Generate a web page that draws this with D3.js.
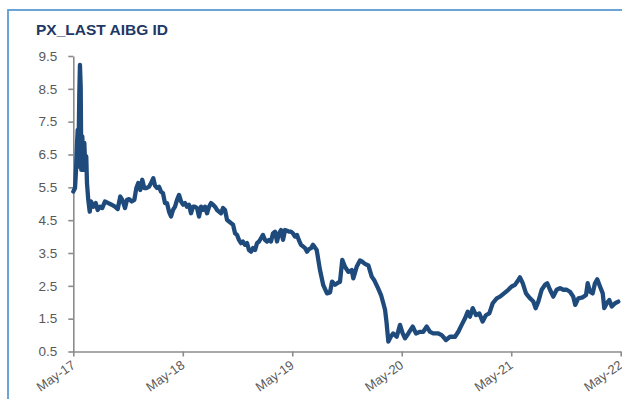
<!DOCTYPE html>
<html>
<head>
<meta charset="utf-8">
<script src="https://cdn.jsdelivr.net/npm/d3@7"></script>
<style>
  html, body { margin: 0; padding: 0; background: #fff; overflow: hidden; }
  svg { display: block; }
</style>
</head>
<body>
<svg id="chart" width="622" height="399"></svg>
<script>
// ---- Data (months since May 2017, PX_LAST) ----
const title = "PX_LAST AIBG ID";
const monthsSinceStart = [
  0,0.19,0.30,0.41,0.48,0.55,0.66,0.73,0.81,0.88,0.99,1.10,1.21,1.32,1.42,1.50,1.64,1.80,1.94,2.19,
  2.46,2.67,2.93,3.18,3.47,3.84,4.21,4.57,4.87,5.15,5.37,5.67,5.89,6.11,6.40,6.69,6.91,7.12,7.34,7.56,
  7.78,8.05,8.30,8.52,8.77,8.96,9.17,9.39,9.61,9.83,10.05,10.27,10.49,10.71,10.93,11.15,11.37,11.59,11.81,12.03,
  12.25,12.46,12.68,12.90,13.12,13.34,13.56,13.78,14.00,14.22,14.44,14.66,14.88,15.10,15.32,15.53,15.75,15.97,16.19,16.41,
  16.63,16.85,17.07,17.29,17.51,17.73,17.95,18.16,18.38,18.60,18.82,19.04,19.26,19.48,19.70,19.92,20.14,20.36,20.57,20.79,
  21.01,21.23,21.45,21.67,21.89,22.11,22.33,22.55,22.77,22.99,23.21,23.42,23.64,23.86,24.08,24.30,24.52,24.74,24.96,25.18,
  25.40,25.62,25.84,26.06,26.27,26.68,27.04,27.40,27.81,28.14,28.36,28.69,29.05,29.23,29.48,29.78,30.14,30.52,30.69,31.06,
  31.42,31.64,31.97,32.34,32.71,33.01,33.40,33.73,33.98,34.17,34.33,34.53,34.79,35.07,35.45,35.81,36.10,36.36,36.72,37.20,
  37.56,38.00,38.36,38.74,39.10,39.46,40.01,40.38,40.85,41.29,41.84,42.20,42.57,42.94,43.23,43.48,43.78,44.14,44.50,44.87,
  45.24,45.60,45.97,46.41,46.77,47.21,47.68,48.05,48.41,48.78,48.96,49.26,49.62,50.06,50.42,50.68,50.97,51.34,51.70,51.95,
  52.25,52.61,52.98,53.35,53.71,54.08,54.44,54.80,55.02,55.35,55.84,56.20,56.38,56.64,56.93,57.18,57.43,57.73,58.03,58.20,
  58.47,58.75,59.02,59.38,59.74
];
const pxLast = [
  5.37,5.48,6.03,6.86,7.25,6.13,8.37,9.23,8.57,6.03,7.05,6.03,6.85,6.03,6.44,5.63,5.12,4.76,5.07,4.91,
  5.02,4.81,4.91,4.87,5.07,5.02,4.97,4.91,4.84,5.22,5.12,4.87,5.12,5.14,5.07,5.12,5.48,5.63,5.42,5.73,
  5.48,5.48,5.52,5.63,5.78,5.55,5.48,5.52,5.37,5.32,5.02,5.02,4.76,4.61,4.81,4.91,5.12,5.27,5.07,4.97,
  5.02,4.91,4.97,4.71,4.91,4.91,4.87,4.61,4.91,4.81,4.91,4.71,4.91,5.02,4.97,4.91,4.81,4.76,4.71,4.87,
  4.81,4.51,4.46,4.41,4.36,4.10,4.05,3.90,3.80,3.85,3.75,3.80,3.59,3.54,3.65,3.59,3.80,3.85,3.95,4.05,
  3.90,3.85,3.90,3.85,4.10,4.15,3.85,4.10,4.20,3.90,4.20,4.18,4.15,4.15,4.10,4.00,4.05,3.88,3.75,3.70,
  3.65,3.54,3.62,3.65,3.75,3.59,2.98,2.52,2.27,2.30,2.63,2.53,2.60,2.62,3.29,3.08,2.93,2.98,2.73,3.08,
  3.27,3.24,3.17,3.12,2.78,2.66,2.43,2.22,1.97,1.77,1.40,0.80,0.95,1.05,0.95,1.31,1.05,0.90,1.05,1.26,
  1.05,1.10,1.10,1.26,1.10,1.05,1.05,1.00,0.85,0.95,0.95,1.10,1.31,1.51,1.71,1.56,1.82,1.61,1.66,1.41,
  1.61,1.66,1.97,2.12,2.17,2.27,2.38,2.48,2.53,2.68,2.76,2.58,2.27,2.12,2.02,1.82,2.02,2.38,2.53,2.58,
  2.38,2.17,2.38,2.43,2.38,2.38,2.32,2.17,1.92,2.12,2.15,2.22,2.58,2.32,2.27,2.58,2.70,2.48,2.27,1.82,
  1.97,2.07,1.87,1.97,2.02
];
const xTickMonths = [0, 12, 24, 36, 48, 60];
const xTickLabels = ["May-17", "May-18", "May-19", "May-20", "May-21", "May-22"];
const yTickValues = [0.5, 1.5, 2.5, 3.5, 4.5, 5.5, 6.5, 7.5, 8.5, 9.5];

// ---- Layout ----
const svg = d3.select("#chart");
const plotLeft = 73.3, plotRight = 620.7, plotTop = 56, plotBottom = 351.5;
const font = "'Liberation Sans', Arial, sans-serif";
const axisColor = "#8c8c8c";
const labelColor = "#595959";

// Frame border
svg.append("rect")
  .attr("x", 8).attr("y", 10)
  .attr("width", 640).attr("height", 420)
  .attr("fill", "none")
  .attr("stroke", "#5b9bd5")
  .attr("stroke-width", 1.8);

// Title
svg.append("text")
  .attr("x", 36).attr("y", 35)
  .attr("font-family", font)
  .attr("font-weight", "bold")
  .attr("font-size", 15.5)
  .attr("fill", "#1f3864")
  .text(title);

const x = d3.scaleLinear().domain([0, 60]).range([plotLeft, plotRight]);
const y = d3.scaleLinear().domain([0.5, 9.5]).range([plotBottom, plotTop]);

// Y axis
const yAxis = svg.append("g")
  .attr("transform", `translate(${plotLeft},0)`)
  .call(d3.axisLeft(y).tickValues(yTickValues).tickFormat(d3.format(".1f")).tickSize(5).tickSizeOuter(0).tickPadding(11));
yAxis.select(".domain").attr("stroke", axisColor).attr("stroke-width", 1.6);
yAxis.selectAll(".tick line").attr("stroke", axisColor).attr("stroke-width", 1.6);
yAxis.selectAll(".tick text")
  .attr("font-family", font).attr("font-size", 13.5).attr("fill", labelColor);

// X axis
const xAxis = svg.append("g")
  .attr("transform", `translate(0,${plotBottom})`)
  .call(d3.axisBottom(x).tickValues(xTickMonths).tickFormat((d, i) => xTickLabels[i]).tickSize(5).tickSizeOuter(0));
xAxis.select(".domain").attr("stroke", axisColor).attr("stroke-width", 1.6);
xAxis.selectAll(".tick line").attr("stroke", axisColor).attr("stroke-width", 1.6);
xAxis.selectAll(".tick text")
  .attr("font-family", font).attr("font-size", 13).attr("fill", labelColor)
  .attr("text-anchor", "end")
  .attr("y", 0).attr("dy", "0.71em")
  .attr("transform", "translate(-3,8) rotate(-35)");

// Line
const data = monthsSinceStart.map((m, i) => ({ m, v: pxLast[i] }));
svg.append("path")
  .datum(data)
  .attr("fill", "none")
  .attr("stroke", "#1f4a7c")
  .attr("stroke-width", 4.3)
  .attr("stroke-linejoin", "round")
  .attr("stroke-linecap", "round")
  .attr("d", d3.line().x(d => x(d.m)).y(d => y(d.v)));
</script>
</body>
</html>
